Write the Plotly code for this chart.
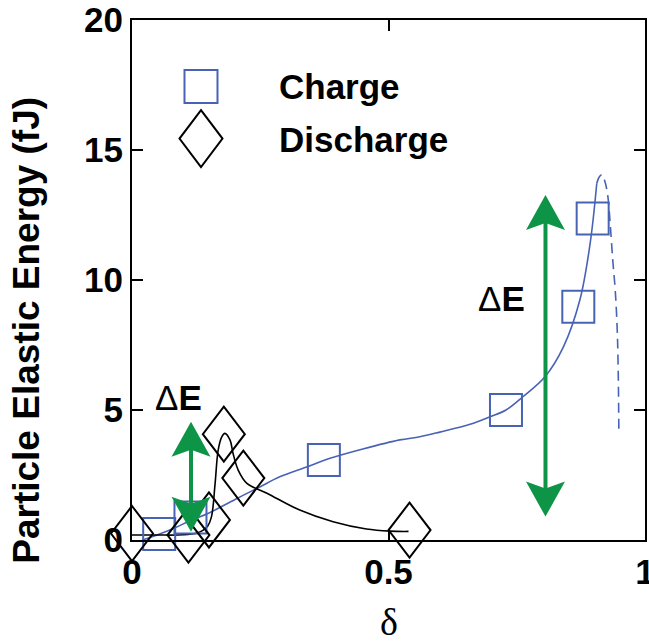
import plotly.graph_objects as go

# ---------------- data ----------------
charge_x = [0.053, 0.114, 0.374, 0.729, 0.870, 0.898]
charge_y = [0.23, 0.87, 3.08, 5.00, 8.97, 12.37]

discharge_x = [0.0, 0.110, 0.150, 0.179, 0.217, 0.541]
discharge_y = [0.25, 0.19, 0.77, 4.07, 2.38, 0.38]

charge_fit_x = [0.02, 0.05, 0.084, 0.114, 0.149, 0.2, 0.25, 0.288, 0.342, 0.386,
                0.45, 0.522, 0.561, 0.6, 0.659, 0.698, 0.729, 0.762, 0.805,
                0.841, 0.873, 0.893, 0.906]
charge_fit_y = [0.0, 0.2, 0.47, 0.75, 1.03, 1.55, 2.05, 2.43, 2.82, 3.14,
                3.5, 3.85, 3.97, 4.15, 4.45, 4.74, 5.0, 5.51, 6.28,
                7.43, 9.23, 11.4, 13.72]

charge_ext_x = [0.906, 0.911, 0.916, 0.921, 0.927, 0.932, 0.937, 0.942, 0.946, 0.948, 0.949]
charge_ext_y = [13.72, 13.97, 14.05, 13.85, 13.3, 12.2, 10.8, 9.6, 8.0, 6.2, 4.2]

discharge_fit_x = [0.0, 0.05, 0.1, 0.125, 0.139, 0.148, 0.155, 0.162, 0.168, 0.175,
                   0.181, 0.191, 0.197, 0.207, 0.224, 0.263, 0.327, 0.392, 0.457,
                   0.503, 0.539]
discharge_fit_y = [0.19, 0.19, 0.2, 0.26, 0.38, 0.55, 0.9, 2.18, 3.46, 3.97,
                   4.1, 3.85, 3.33, 2.69, 2.18, 1.8, 1.15, 0.70, 0.42,
                   0.34, 0.33]

arrow_x = [0.115, 0.806]
arrow_y_low = [0.32, 0.90]
arrow_y_high = [4.55, 13.27]

label_x = [0.0897, 0.721]
label_y = [5.5, 9.3]
label_text = ["Δ<b>E</b>", "Δ<b>E</b>"]

x_ticks = [0, 0.5, 1]
x_tick_text = ["0", "0.5", "1"]
y_ticks = [0, 5, 10, 15, 20]
y_tick_text = ["0", "5", "10", "15", "20"]

legend_names = ["Charge", "Discharge"]

X_RANGE = [0, 1]
Y_RANGE = [0, 20]

BLUE = "#4863b4"
GREEN = "#0e9447"
FONT = "Liberation Sans, Arial, sans-serif"

fig = go.Figure()

fig.add_trace(go.Scatter(x=charge_fit_x, y=charge_fit_y, mode="lines",
                         line=dict(color=BLUE, width=1.6, shape="spline"),
                         showlegend=False, hoverinfo="skip"))
fig.add_trace(go.Scatter(x=charge_ext_x, y=charge_ext_y, mode="lines",
                         line=dict(color=BLUE, width=1.6, shape="spline", dash="10px,6px"),
                         showlegend=False, hoverinfo="skip"))
fig.add_trace(go.Scatter(x=discharge_fit_x, y=discharge_fit_y, mode="lines",
                         line=dict(color="black", width=1.6, shape="spline"),
                         showlegend=False, hoverinfo="skip"))

fig.add_trace(go.Scatter(x=charge_x, y=charge_y, mode="markers", name=legend_names[0],
                         marker=dict(symbol="square-open", size=32, color=BLUE,
                                     line=dict(width=2, color=BLUE)),
                         cliponaxis=False, showlegend=False))
# discharge points (drawn as tall diamonds via shapes below)
fig.add_trace(go.Scatter(x=discharge_x, y=discharge_y, mode="markers", name=legend_names[1],
                         marker=dict(size=1, opacity=0, color="black"),
                         cliponaxis=False, showlegend=False))

shapes = []
DIAMOND = "M0,27.5L21,0L0,-27.5L-21,0Z"
for dx, dy in zip(discharge_x, discharge_y):
    xa = (dx - X_RANGE[0]) / (X_RANGE[1] - X_RANGE[0])
    ya = (dy - Y_RANGE[0]) / (Y_RANGE[1] - Y_RANGE[0])
    shapes.append(dict(type="path", xref="paper", yref="paper",
                       xsizemode="pixel", ysizemode="pixel",
                       xanchor=xa, yanchor=ya, path=DIAMOND,
                       line=dict(color="black", width=2),
                       fillcolor="rgba(0,0,0,0)", layer="above"))

# arrows
HEAD_UP = "M0,0L19.5,-35L0,-28L-19.5,-35Z"
HEAD_DOWN = "M0,0L19.5,35L0,28L-19.5,35Z"
for ax_, lo, hi in zip(arrow_x, arrow_y_low, arrow_y_high):
    shapes.append(dict(type="line", xref="x", yref="y", x0=ax_, x1=ax_,
                       y0=lo + 0.6, y1=hi - 0.6,
                       line=dict(color=GREEN, width=4), layer="above"))
    shapes.append(dict(type="path", xref="x", yref="y", xsizemode="pixel",
                       ysizemode="pixel", xanchor=ax_, yanchor=hi, path=HEAD_UP,
                       fillcolor=GREEN, line=dict(width=0), layer="above"))
    shapes.append(dict(type="path", xref="x", yref="y", xsizemode="pixel",
                       ysizemode="pixel", xanchor=ax_, yanchor=lo, path=HEAD_DOWN,
                       fillcolor=GREEN, line=dict(width=0), layer="above"))

# legend markers
shapes.append(dict(type="rect", xref="paper", yref="paper", xsizemode="pixel",
                   ysizemode="pixel", xanchor=0.1345, yanchor=0.872,
                   x0=-16.5, x1=16.5, y0=-16.5, y1=16.5,
                   line=dict(color=BLUE, width=2), fillcolor="rgba(0,0,0,0)"))
shapes.append(dict(type="path", xref="paper", yref="paper", xsizemode="pixel",
                   ysizemode="pixel", xanchor=0.1345, yanchor=0.772,
                   path="M0,28.5L21.5,0L0,-28.5L-21.5,0Z",
                   line=dict(color="black", width=2), fillcolor="rgba(0,0,0,0)"))

annotations = []
for name, yy in zip(legend_names, [0.872, 0.771]):
    annotations.append(dict(text=f"<b>{name}</b>", x=0.2827, y=yy, xref="paper", yref="paper",
                            xanchor="left", yanchor="middle", showarrow=False,
                            font=dict(family=FONT, size=35, color="black")))
for lx, ly, lt in zip(label_x, label_y, label_text):
    annotations.append(dict(text=lt, x=lx, y=ly, xref="x", yref="y",
                            xanchor="center", yanchor="middle", showarrow=False,
                            font=dict(family=FONT, size=35, color="black")))
annotations.append(dict(text="<b>Particle Elastic Energy (fJ)</b>", x=-0.205, y=0.404,
                        xref="paper", yref="paper", textangle=-90, showarrow=False,
                        xanchor="center", yanchor="middle",
                        font=dict(family=FONT, size=37, color="black")))
annotations.append(dict(text="δ", x=0.5, y=-0.158, xref="paper", yref="paper",
                        showarrow=False, xanchor="center", yanchor="middle",
                        font=dict(family="Liberation Serif, Times New Roman, serif",
                                  size=38, color="black")))

axis_common = dict(showgrid=False, zeroline=False, showline=True, linecolor="black",
                   linewidth=2, mirror="ticks", ticks="inside", ticklen=11,
                   tickwidth=2, tickcolor="black", automargin=False,
                   ticklabeloverflow="allow",
                   tickfont=dict(family=FONT, size=35, color="black", weight="bold"))

fig.update_layout(
    width=649, height=644, autosize=False,
    margin=dict(l=132, r=4, t=20, b=104, autoexpand=False),
    paper_bgcolor="white", plot_bgcolor="white",
    xaxis=dict(range=X_RANGE, tickvals=x_ticks, ticktext=x_tick_text, **axis_common),
    yaxis=dict(range=Y_RANGE, tickvals=y_ticks, ticktext=y_tick_text, **axis_common),
    shapes=shapes, annotations=annotations, showlegend=False,
)

fig.write_html("out.html")
